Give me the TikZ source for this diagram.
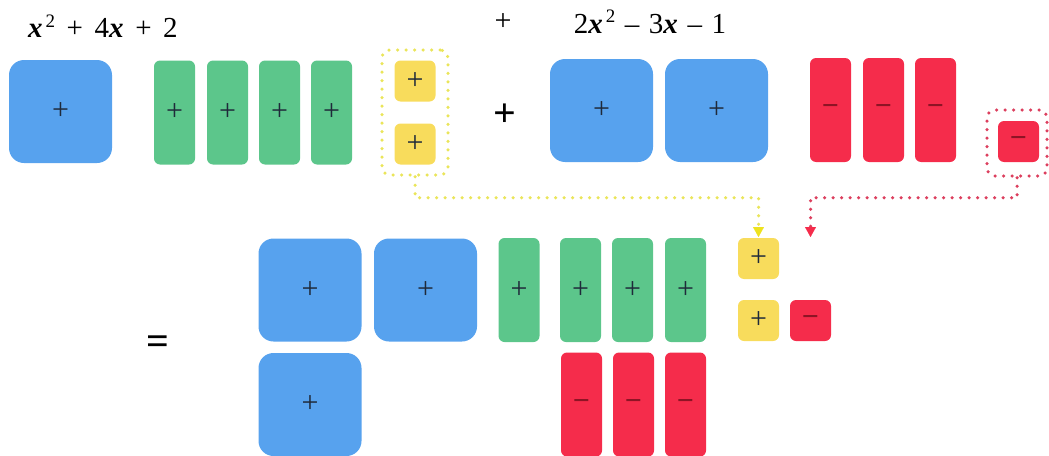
\documentclass[tikz,border=0pt]{standalone}
\usepackage{fontspec}
\setmainfont{Liberation Serif}
\usetikzlibrary{arrows.meta}
\definecolor{tblue}{HTML}{57A2EE}
\definecolor{tgreen}{HTML}{5CC68B}
\definecolor{tred}{HTML}{F52C4B}
\definecolor{tyellow}{HTML}{F8DC5C}
\definecolor{dotyellow}{HTML}{EAE55A}
\definecolor{tipyellow}{HTML}{EEE21E}
\definecolor{dotred}{HTML}{DC3F5E}
\definecolor{signdark}{HTML}{1F2A3A}
\definecolor{minusdark}{HTML}{8E1425}
\newcommand\bvar[1]{{\bfseries\itshape #1}}
\newcommand\pw[1]{\hspace{0.1em}\raisebox{0.36em}{\fontsize{19}{19}\selectfont #1}}
\newcommand\gapA{\hspace{0.4em}}
\newcommand\gapB{\hspace{0.33em}}
\begin{document}
\begin{tikzpicture}[x=1pt,y=-1pt,
  tile/.style={inner sep=0pt, outer sep=0pt, font=\fontsize{30}{30}\selectfont, text=signdark},
  bigsq/.style={tile, fill=tblue, minimum width=103pt, minimum height=103pt, rounded corners=15pt},
  longtile/.style={tile, fill=tgreen, minimum width=41pt, minimum height=104pt, rounded corners=6pt},
  neglong/.style={longtile, fill=tred, text=minusdark, font=\fontsize{30}{30}\selectfont\bfseries},
  unittile/.style={tile, fill=tyellow, minimum width=41pt, minimum height=41pt, rounded corners=6pt},
  negunit/.style={unittile, fill=tred, text=minusdark, font=\fontsize{30}{30}\selectfont\bfseries},
  dotline/.style={line width=3.5pt, dash pattern=on 0pt off 8.5pt, line cap=round},
  dotbox/.style={dotline, draw, rounded corners=8pt, inner sep=0pt},
  eqtext/.style={font=\fontsize{29}{29}\selectfont, inner sep=0pt},
  bigsign/.style={font=\fontsize{40}{40}\selectfont\bfseries, inner sep=0pt}
]
\useasboundingbox (0,0) rectangle (1049,455);
% equations
\node[eqtext] (eq1) at (103,26) {\bvar{x}\pw{2}\gapA+\gapA4\bvar{x}\gapA+\gapA2};
\node[eqtext, font=\fontsize{30}{30}\selectfont] (eqplus) at (503,22) {+};
\node[eqtext] (eq2) at (650,22) {2\bvar{x}\pw{2}\gapB–\gapB3\bvar{x}\gapB–\gapB1};
% top row: first polynomial
\node[bigsq] (b1) at (60.5,111.5) {+};
\node[longtile] (g1) at (174.5,112.5) {+};
\node[longtile] (g2) at (227.5,112.5) {+};
\node[longtile] (g3) at (279.5,112.5) {+};
\node[longtile] (g4) at (331.5,112.5) {+};
\node[unittile] (y1) at (415,81) {+};
\node[unittile] (y2) at (415,144) {+};
\node[dotbox, draw=dotyellow, minimum width=66pt, minimum height=125pt] (ybox) at (415,112.5) {};
\node[bigsign] (bigplus) at (505,115) {+};
% top row: second polynomial
\node[bigsq] (b2) at (601.5,110.5) {+};
\node[bigsq] (b3) at (716.5,110.5) {+};
\node[neglong] (r1) at (830.5,110) {−};
\node[neglong] (r2) at (883.5,110) {−};
\node[neglong] (r3) at (935.5,110) {−};
\node[negunit] (rs) at (1018.5,141.5) {−};
\node[dotbox, draw=dotred, minimum width=60pt, minimum height=66pt] (rbox) at (1017,143) {};
% result
\node[bigsign] (equal) at (158,345) {=};
\node[bigsq] (B1) at (310,290) {+};
\node[bigsq] (B2) at (425.5,290) {+};
\node[bigsq] (B3) at (310,404.5) {+};
\node[longtile] (G1) at (519,290) {+};
\node[longtile] (G2) at (580.5,290) {+};
\node[longtile] (G3) at (632.5,290) {+};
\node[longtile] (G4) at (685.5,290) {+};
\node[neglong] (R1) at (581.5,404.5) {−};
\node[neglong] (R2) at (633.5,404.5) {−};
\node[neglong] (R3) at (685.5,404.5) {−};
\node[unittile] (Y1) at (758.5,258.5) {+};
\node[unittile] (Y2) at (758.5,320.5) {+};
\node[negunit] (RS) at (810.5,320.5) {−};
% connectors
\coordinate (rend) at (810.5,237);
\draw[dotline, draw=dotyellow, -{Triangle[width=11pt,length=10pt,line width=0.1pt,fill=tipyellow,color=tipyellow]}, shorten >=1pt] (ybox.south) -- ++(0,21) -| (Y1.north);
\draw[dotline, draw=dotred, -{Triangle[width=11pt,length=10pt,line width=0.1pt,fill=tred,color=tred]}] (rbox.south) -- ++(0,20) -| (rend);
\end{tikzpicture}
\end{document}
